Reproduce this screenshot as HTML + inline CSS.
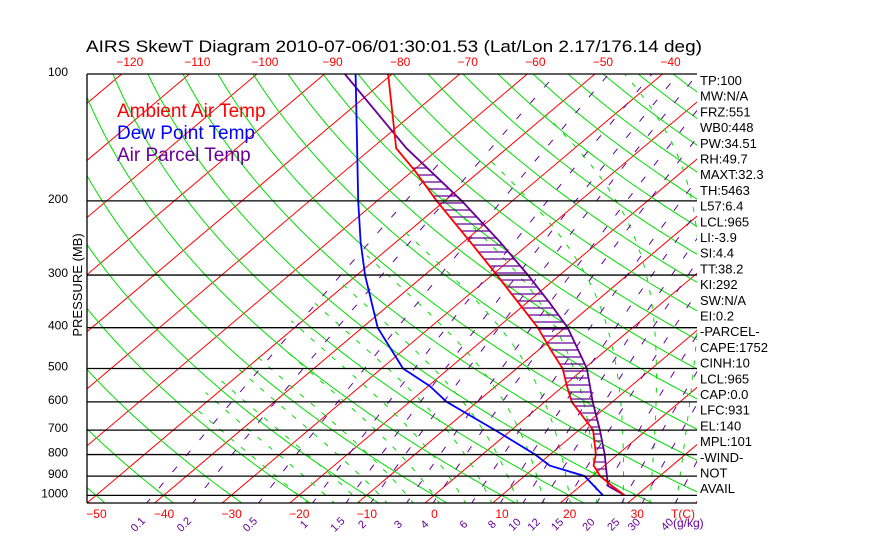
<!DOCTYPE html>
<html><head><meta charset="utf-8"><style>
body{margin:0;background:#fff;}
svg{display:block;font-family:"Liberation Sans",sans-serif;}
</style></head><body>
<svg id="chart" width="870" height="560" viewBox="0 0 870 560">
<defs><clipPath id="plotclip"><rect x="87" y="74" width="610" height="429"/></clipPath></defs>
<rect x="0" y="0" width="870" height="560" fill="#fff"/>
<text x="86" y="52" font-size="17" textLength="616" lengthAdjust="spacingAndGlyphs">AIRS SkewT Diagram 2010-07-06/01:30:01.53 (Lat/Lon 2.17/176.14 deg)</text>
<g id="grid" clip-path="url(#plotclip)"></g>
<g id="marks" clip-path="url(#plotclip)"></g>
<g id="axes"></g>
<text x="117" y="117" font-size="19" fill="#ff0000">Ambient Air Temp</text>
<text x="117" y="139" font-size="19" fill="#0000ff">Dew Point Temp</text>
<text x="117" y="161" font-size="19" fill="#660099">Air Parcel Temp</text>
<text transform="translate(82,285) rotate(-90)" font-size="13" text-anchor="middle">PRESSURE (MB)</text>
</svg>
<script>
// ---- data ----
const pressureLevels = [100,200,300,400,500,600,700,800,900,1000];
const topTempTicks = [-120,-110,-100,-90,-80,-70,-60,-50,-40];
const bottomTempTicks = [-50,-40,-30,-20,-10,0,10,20,30];
const mixingRatios = [0.1,0.2,0.5,1,1.5,2,3,4,6,8,10,12,15,20,25,30,40];
const tempP = [100,150,170,200,250,300,400,450,500,550,600,650,700,800,850,900,950,1000];
const tempT = [-80.6,-66.4,-59.6,-51.2,-39.1,-29.3,-14.0,-8.4,-3.2,0.5,4.0,8.2,12.1,16.8,18.4,21.2,24.7,28.2];
const dewP = [100,200,250,300,400,500,550,600,700,800,850,900,1000];
const dewT = [-85.4,-62.8,-55.3,-48.8,-37.7,-26.8,-19.8,-14.5,-2.4,7.8,11.9,18.9,25.0];
const parcelP = [100,150,200,250,300,350,400,500,600,700,800,900,950,1000];
const parcelT = [-87.0,-64.9,-47.5,-34.7,-24.7,-16.5,-9.6,0.4,7.1,13.1,18.1,22.2,24.1,28.2];
const statsLabels = ["TP:100","MW:N/A","FRZ:551","WB0:448","PW:34.51","RH:49.7","MAXT:32.3","TH:5463","L57:6.4","LCL:965","LI:-3.9","SI:4.4","TT:38.2","KI:292","SW:N/A","EI:0.2","-PARCEL-","CAPE:1752","CINH:10","LCL:965","CAP:0.0","LFC:931","EL:140","MPL:101","-WIND-","NOT","AVAIL"];

// ---- axis functions ----
const NS="http://www.w3.org/2000/svg";
const YB=503, X0=425, DX=6.76, SK=1.184;
function yOf(p){return 74+183*Math.log(p/100);}
function xOf(T,p){return X0+DX*T+SK*(YB-yOf(p));}
function mk(tag,attrs,parent){const e=document.createElementNS(NS,tag);for(const k in attrs)e.setAttribute(k,attrs[k]);parent.appendChild(e);return e;}
const grid=document.getElementById('grid'), marks=document.getElementById('marks'), axes=document.getElementById('axes');
function pathFrom(pts){return pts.map((q,i)=>(i?'L':'M')+q[0].toFixed(1)+' '+q[1].toFixed(1)).join(' ');}
const pSamples=[];for(let p=1050;p>=95;p-=5)pSamples.push(p);

// isotherms
for(let T=-140;T<=60;T+=10){
  const l=mk('line',{x1:xOf(T,1050),y1:yOf(1050),x2:xOf(T,90),y2:yOf(90),stroke:'#ff0000','stroke-width':1},grid);
  
  
}
// dry adiabats
for(let th=-50;th<=250;th+=10){
  const pts=pSamples.map(p=>[xOf((th+273.15)*Math.pow(p/1000,0.2857)-273.15,p),yOf(p)]);
  const e=mk('path',{d:pathFrom(pts),fill:'none',stroke:'#00dd00','stroke-width':1},grid);
  
  
}
// moist adiabats (stop when colder than -52C)
function es(T){return 6.112*Math.exp(17.67*T/(T+243.5));}
function moist(T1000){
  const pts=[];let T=T1000+273.15;
  const Rd=287,Lv=2.5e6,cp=1004,eps=0.622;
  function rate(T,p){const e=es(T-273.15);const rs=eps*e/(p-e);return (Rd*T+Lv*rs)/(p*(cp+Lv*Lv*rs*eps/(Rd*T*T)));}
  let Td=T;for(let p=1000;p<1050;p+=5){Td+=rate(Td,p)*5;}
  pts.push([xOf(Td-273.15,1050),yOf(1050)]);
  for(let p=1000;p>=100;p-=5){if(T-273.15<-52)break;pts.push([xOf(T-273.15,p),yOf(p)]);T-=rate(T,p)*5;}
  return pts;
}
for(let t=-20;t<=44;t+=4){
  const e=mk('path',{d:pathFrom(moist(t)),fill:'none',stroke:'#00dd00','stroke-width':1,'stroke-dasharray':'5 9'},grid);
  
  
}
// mixing ratio lines (stop when colder than -58C)
function tdFromW(w,p){const e=w*p/(622+w);const l=Math.log(e/6.112);return 243.5*l/(17.67-l);}
mixingRatios.forEach(w=>{
  const pts=[];for(let p=1050;p>=100;p-=10){const td=tdFromW(w,p);if(td<-58)break;pts.push([xOf(td,p),yOf(p)]);}
  const e=mk('path',{d:pathFrom(pts),fill:'none',stroke:'#660099','stroke-width':1,'stroke-dasharray':'7 14'},grid);
  
  
  const lx=xOf(tdFromW(w,1050),1050)-5;
  const t=mk('text',{x:0,y:0,transform:`translate(${lx.toFixed(1)},527) rotate(-45)`,'font-size':11,fill:'#660099','text-anchor':'middle'},axes);
  t.textContent=String(w);
  
  
});
// pressure lines
pressureLevels.forEach(p=>{
  const l=mk('line',{x1:87,y1:yOf(p),x2:697,y2:yOf(p),stroke:'#000','stroke-width':1.3},axes);
  
  
  const t=mk('text',{x:68,y:yOf(p)+2,'font-size':12,'text-anchor':'end'},axes);
  t.textContent=String(p);
  
  
});
const bl=mk('line',{x1:87,y1:YB,x2:697,y2:YB,stroke:'#000','stroke-width':1.3},axes);


const vl=mk('line',{x1:87,y1:74,x2:87,y2:YB,stroke:'#000','stroke-width':1.3},axes);


topTempTicks.forEach(T=>{
  const t=mk('text',{x:xOf(T,100)+8,y:66,'font-size':12,fill:'#ff0000','text-anchor':'middle'},axes);
  t.textContent=String(T).replace('-','\u2212');
  
  
});
bottomTempTicks.forEach(T=>{
  const t=mk('text',{x:xOf(T,1050)+11,y:518,'font-size':12,fill:'#ff0000','text-anchor':'middle'},axes);
  t.textContent=String(T).replace('-','\u2212');
  
  
});
const tc=mk('text',{x:683,y:518,'font-size':12,fill:'#ff0000','text-anchor':'middle'},axes);
tc.textContent='T(C)';


const gk=mk('text',{x:673,y:527,'font-size':12,fill:'#660099'},axes);
gk.textContent='(g/kg)';


statsLabels.forEach((s,i)=>{
  const t=mk('text',{x:700,y:85+i*15.7,'font-size':13},axes);
  t.textContent=s;
  
  
});
// profiles
function interp(P,T,p){const lp=Math.log(p);for(let i=0;i<P.length-1;i++){const a=Math.log(P[i]),b=Math.log(P[i+1]);if(lp>=a&&lp<=b)return T[i]+(T[i+1]-T[i])*(lp-a)/(b-a);}return null;}
for(let y=168;y<=492;y+=7){
  const p=100*Math.exp((y-74)/183);
  const tr=interp(tempP,tempT,p), tp=interp(parcelP,parcelT,p);
  if(tr===null||tp===null)continue;
  const xr=xOf(tr,p), xp=xOf(tp,p);
  if(xp-xr>1.5){
    const h=mk('line',{x1:xr,y1:y,x2:xp,y2:y,stroke:'#660099','stroke-width':1.2},marks);
    
    
  }
}
function profile(P,T,color,name){
  const e=mk('path',{d:pathFrom(P.map((p,i)=>[xOf(T[i],p),yOf(p)])),fill:'none',stroke:color,'stroke-width':1.8},marks);
  
  
}
profile(parcelP,parcelT,'#660099','parcel-temp-line');
profile(tempP,tempT,'#ff0000','ambient-temp-line');
profile(dewP,dewT,'#0000ff','dew-point-line');
</script>
</body></html>
